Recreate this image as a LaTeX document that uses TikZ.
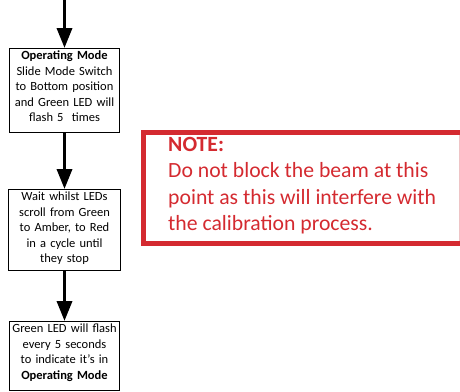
\documentclass[tikz,border=0pt]{standalone}
\usepackage{fontspec}
\setmainfont{Carlito}
\usetikzlibrary{arrows.meta}
\definecolor{notered}{HTML}{D42A30}
\definecolor{notepink}{HTML}{EFC4C6}
\begin{document}
\begin{tikzpicture}[x=1pt,y=-1pt,
  stepbox/.style={draw=black, line width=1pt, fill=white, align=center, inner xsep=1pt, inner ysep=2pt,
    font=\fontsize{12.5}{15.5}\selectfont, anchor=north},
  flow/.style={line width=3.5pt, -{Triangle[width=15pt,length=20pt]}},
  notetext/.style={text=notered, align=left, inner sep=0pt, anchor=north west,
    font=\fontsize{21.7}{26.5}\selectfont},
  noteframe/.style={draw=notered, line width=5pt}
]
\useasboundingbox (0,0) rectangle (460,391);

\node[stepbox, text width=108pt, minimum width=110pt, minimum height=84pt] (b1) at (64.5,48)
  {\textbf{Operating Mode}\\Slide Mode Switch\\to Bottom position\\and Green LED will\\flash 5~ times\rule[-8pt]{0pt}{0pt}};
\node[stepbox, text width=110pt, minimum width=112pt, minimum height=81pt] (b2) at (64.5,189)
  {Wait whilst LEDs\\scroll from Green\\to Amber, to Red\\in a cycle until\\they stop\rule[-5pt]{0pt}{0pt}};
\node[stepbox, text width=108pt, minimum width=110pt, minimum height=69pt] (b3) at (64.5,321)
  {Green LED will flash\\every 5 seconds\\to indicate it’s in\\\textbf{Operating Mode}\rule[-8.5pt]{0pt}{0pt}};

\coordinate (start) at (64.5,0);
\draw[flow] (start) -- (b1.north);
\draw[flow] (b1.south) -- (b2.north);
\draw[flow] (b2.south) -- (b3.north);

\draw[noteframe] (463,132) -| (143,243) -- (463,243);
\draw[notepink, line width=1pt] (459,134.5) -- (459,240.5);
\node[notetext] (note) at (168,137)
  {\textbf{NOTE:}\\Do not block the beam at this\\point as this will interfere with\\the calibration process.};
\end{tikzpicture}
\end{document}
